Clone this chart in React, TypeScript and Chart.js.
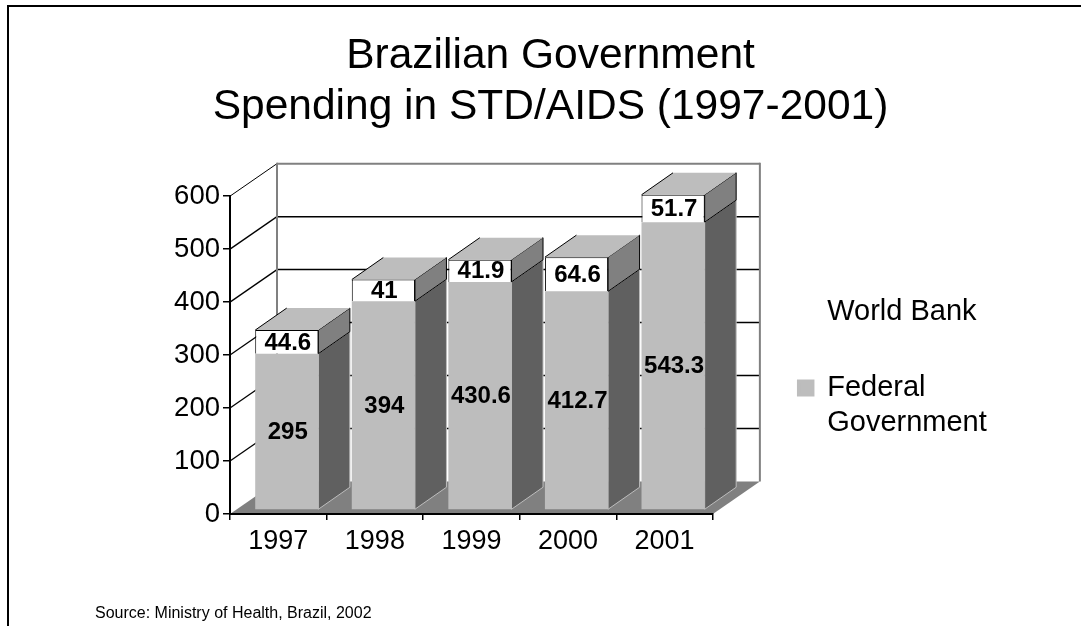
import React, { useEffect, useRef } from "react";
import { Chart, registerables } from "chart.js";

Chart.register(...registerables);

const years = ["1997", "1998", "1999", "2000", "2001"];
const federalGovernment = [295, 394, 430.6, 412.7, 543.3];
const worldBank = [44.6, 41, 41.9, 64.6, 51.7];
const titleLines = ["Brazilian Government", "Spending in STD/AIDS (1997-2001)"];
const sourceNote = "Source: Ministry of Health, Brazil, 2002";
const FONT = "'Liberation Sans', Arial, sans-serif";

// Oblique projection used for the walls, floor and column sides.
const WALL_DX = 47;
const WALL_DY = -32.5;
const COLUMN_DX = 31.5;
const COLUMN_DY = -22;
const COLUMN_SHIFT_X = 8.5;
const COLUMN_SHIFT_Y = -4;

function poly(ctx: CanvasRenderingContext2D, pts: number[][], fill?: string, stroke?: string, width = 1) {
  ctx.beginPath();
  pts.forEach(([x, y], i) => (i ? ctx.lineTo(x, y) : ctx.moveTo(x, y)));
  ctx.closePath();
  if (fill) {
    ctx.fillStyle = fill;
    ctx.fill();
  }
  if (stroke) {
    ctx.strokeStyle = stroke;
    ctx.lineWidth = width;
    ctx.stroke();
  }
}

function line(ctx: CanvasRenderingContext2D, x1: number, y1: number, x2: number, y2: number, color: string, width: number) {
  ctx.beginPath();
  ctx.moveTo(x1, y1);
  ctx.lineTo(x2, y2);
  ctx.strokeStyle = color;
  ctx.lineWidth = width;
  ctx.stroke();
}

const box3d = {
  id: "box3d",
  afterLayout(chart: any) {
    // The side panel and the heading sit apart from the plot's own box.
    const legend = chart.legend;
    const w = legend.right - legend.left;
    legend.left = 751.7;
    legend.right = 751.7 + w;
    legend.top = 250.5;
    chart.titleBlock.left = 0;
    chart.titleBlock.right = 1101;
  },
  beforeDraw(chart: any) {
    const { ctx, chartArea: a, scales } = chart;
    const y = scales.y;
    ctx.save();
    poly(ctx, [
      [a.left, a.bottom],
      [a.left + WALL_DX, a.bottom + WALL_DY],
      [a.right + WALL_DX, a.bottom + WALL_DY],
      [a.right, a.bottom],
    ], "#808080");
    y.ticks.forEach((t: any) => {
      const py = y.getPixelForValue(t.value);
      if (t.value > 0) {
        line(ctx, a.left, py, a.left + WALL_DX, py + WALL_DY, "#000", t.value === 600 ? 1 : 1.3);
      }
      if (t.value > 0 && t.value < 600) {
        line(ctx, a.left + WALL_DX, py + WALL_DY, a.right + WALL_DX, py + WALL_DY, "#000", 1.5);
      }
    });
    const bx = a.left + WALL_DX;
    const tx = a.right + WALL_DX;
    const ty = a.top + WALL_DY;
    const by = a.bottom + WALL_DY;
    line(ctx, bx, ty, tx, ty, "#808080", 2);
    line(ctx, bx, ty - 1, bx, by, "#808080", 2);
    line(ctx, tx, ty - 1, tx, by, "#808080", 2);
    ctx.restore();
  },
  beforeDatasetsDraw(chart: any) {
    const { ctx } = chart;
    ctx.save();
    ctx.translate(COLUMN_SHIFT_X, COLUMN_SHIFT_Y);
    const lower = chart.getDatasetMeta(0).data;
    const upper = chart.getDatasetMeta(1).data;
    lower.forEach((el: any, i: number) => {
      const top = upper[i];
      const l = el.x - el.width / 2;
      const r = el.x + el.width / 2;
      poly(ctx, [
        [r, el.y],
        [r + COLUMN_DX, el.y + COLUMN_DY],
        [r + COLUMN_DX, el.base + COLUMN_DY],
        [r, el.base],
      ], "#606060", "#bdbdbd");
      poly(ctx, [
        [r, top.y],
        [r + COLUMN_DX, top.y + COLUMN_DY],
        [r + COLUMN_DX, top.base + COLUMN_DY],
        [r, top.base],
      ], "#808080", "#000");
      poly(ctx, [
        [l, top.y],
        [l + COLUMN_DX, top.y + COLUMN_DY],
        [r + COLUMN_DX, top.y + COLUMN_DY],
        [r, top.y],
      ], "#bdbdbd");
      line(ctx, l, top.y, l + COLUMN_DX, top.y + COLUMN_DY, "#000", 1);
    });
  },
  afterDatasetsDraw(chart: any) {
    const { ctx } = chart;
    ctx.font = `bold 24px ${FONT}`;
    ctx.fillStyle = "#000";
    ctx.textAlign = "center";
    ctx.textBaseline = "middle";
    chart.data.datasets.forEach((ds: any, d: number) => {
      chart.getDatasetMeta(d).data.forEach((el: any, i: number) => {
        ctx.fillText(String(ds.data[i]), el.x + 1, (el.y + el.base) / 2 + 1);
      });
    });
    ctx.restore();
  },
  afterDraw(chart: any) {
    const { ctx, width, height } = chart;
    ctx.save();
    line(ctx, 8, 5, 8, height, "#000", 2);
    line(ctx, 7, 6, width, 6, "#000", 2);
    ctx.font = `16px ${FONT}`;
    ctx.fillStyle = "#000";
    ctx.textAlign = "left";
    ctx.textBaseline = "middle";
    ctx.fillText(sourceNote, 95, 614);
    ctx.restore();
  },
};

export default function App() {
  const ref = useRef<HTMLCanvasElement>(null);
  useEffect(() => {
    const chart = new Chart(ref.current as HTMLCanvasElement, {
      type: "bar",
      data: {
        labels: years,
        datasets: [
          {
            label: "Federal Government",
            data: federalGovernment,
            backgroundColor: "#bdbdbd",
            borderWidth: 0,
            clip: false,
          },
          {
            label: "World Bank",
            data: worldBank,
            backgroundColor: "#ffffff",
            borderColor: "#000000",
            borderWidth: 1,
            borderSkipped: "bottom",
            clip: false,
          },
        ],
      } as any,
      plugins: [box3d],
      options: {
        animation: false,
        responsive: false,
        layout: { padding: { left: 0, top: 0, right: 130.5, bottom: 0 } },
        datasets: { bar: { barPercentage: 0.654, categoryPercentage: 1 } },
        scales: {
          x: {
            stacked: true,
            grid: { drawOnChartArea: false, color: "#000", tickLength: 6, lineWidth: 1.5 },
            border: { color: "#000", width: 2 },
            ticks: { color: "#000", font: { family: FONT, size: 27 }, padding: 5, maxRotation: 0 },
            afterFit: (s: any) => {
              s.height = 112;
            },
          },
          y: {
            stacked: true,
            min: 0,
            max: 600,
            grid: { drawOnChartArea: false, color: "#000", tickLength: 7, lineWidth: 1.5 },
            border: { color: "#000", width: 2 },
            ticks: { stepSize: 100, color: "#000", font: { family: FONT, size: 27.5 }, padding: 3 },
            afterFit: (s: any) => {
              s.width = 230;
            },
          },
        },
        plugins: {
          title: {
            display: true,
            text: titleLines,
            color: "#000",
            font: { family: FONT, size: 42.5, weight: "normal", lineHeight: 1.19 },
            padding: { top: 31, bottom: 64 },
          },
          tooltip: { enabled: false },
          legend: {
            position: "right",
            align: "start",
            labels: {
              color: "#000",
              font: { family: FONT, size: 29, lineHeight: 1.21 },
              boxWidth: 14,
              boxHeight: 13.5,
              padding: 47,
              generateLabels: () => [
                { text: "World Bank", fillStyle: "rgba(0,0,0,0)", strokeStyle: "rgba(0,0,0,0)", lineWidth: 0, datasetIndex: 1 },
                { text: ["Federal", "Government"], fillStyle: "#bdbdbd", strokeStyle: "#bdbdbd", lineWidth: 3.5, datasetIndex: 0 },
              ],
            },
          },
        },
      } as any,
    });
    return () => chart.destroy();
  }, []);
  return (
    <div style={{ position: "absolute", left: 0, top: 0 }}>
      <canvas ref={ref} width={1081} height={626} style={{ display: "block" }} />
    </div>
  );
}
